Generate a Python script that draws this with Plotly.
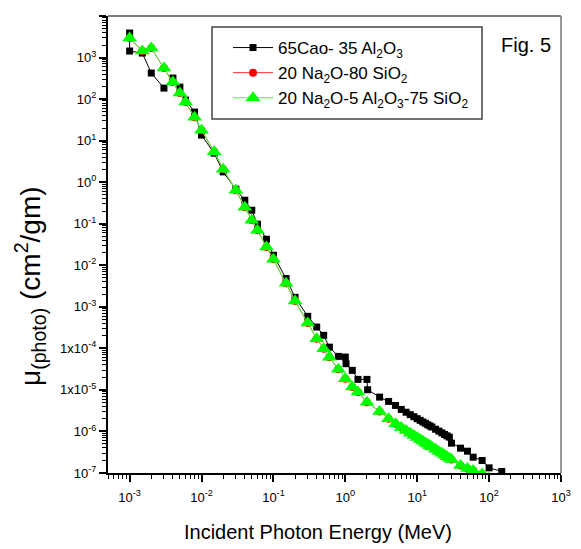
import plotly.graph_objects as go

# energies (MeV) and photoelectric mass attenuation (cm2/gm)
e_caal = [0.001, 0.001, 0.0015, 0.002, 0.003, 0.004, 0.005, 0.006, 0.008,
          0.01, 0.015, 0.02, 0.03, 0.04, 0.05, 0.06, 0.08,
          0.1, 0.15, 0.2, 0.3, 0.4, 0.5, 0.6, 0.8,
          1, 1.022, 1.25, 1.5, 2, 2.044, 3, 4, 5,
          6, 7, 8, 9, 10, 11, 12, 13, 14, 15, 16,
          18, 20, 22, 24, 26, 28, 30,
          40, 50, 60, 80, 100, 150]
mu_caal = [3890, 1435, 1283, 424, 184, 321, 194, 94.6, 48.7,
           13.6, 5.0, 1.77, 0.678, 0.368, 0.211, 0.0973, 0.0424,
           0.0174, 4.79e-3, 1.69e-3, 5.9e-4, 3.26e-4, 2.06e-4, 1.07e-4, 6.41e-5,
           6.17e-5, 4.28e-5, 2.95e-5, 1.79e-5, 1.79e-5, 1.01e-5, 6.71e-6, 5.28e-6, 4.23e-6,
           3.39e-6, 2.90e-6, 2.54e-6, 2.26e-6, 2.03e-6, 1.85e-6, 1.69e-6, 1.57e-6, 1.45e-6, 1.36e-6, 1.28e-6,
           1.13e-6, 1.02e-6, 9.25e-7, 8.47e-7, 7.83e-7, 7.29e-7, 5.22e-7,
           3.96e-7, 3.35e-7, 2.40e-7, 2.0e-7, 1.33e-7, 1.09e-7]

e_glass = [0.001, 0.0015, 0.002, 0.003, 0.004, 0.005, 0.006, 0.008,
           0.01, 0.015, 0.02, 0.03, 0.04, 0.05, 0.06, 0.08,
           0.1, 0.15, 0.2, 0.3, 0.4, 0.5, 0.6, 0.8,
           1, 1.25, 1.5, 2, 3, 4, 5,
           6, 7, 8, 9, 10, 11, 12, 13, 14, 15, 16,
           18, 20, 22, 24, 26, 28, 30,
           40, 50, 60, 80, 100]
mu_nasi = [2950, 1435, 1694, 558, 257, 140, 84.7, 36.8,
           17.9, 5.37, 2.06, 0.641, 0.250, 0.121, 0.0697, 0.0276,
           0.0140, 3.68e-3, 1.38e-3, 4.07e-4, 1.71e-4, 9.84e-5, 6.07e-5, 3.15e-5,
           1.86e-5, 1.17e-5, 8.85e-6, 5.08e-6, 3.03e-6, 2.02e-6, 1.53e-6,
           1.25e-6, 1.06e-6, 9.1e-7, 8.0e-7, 7.13e-7, 6.41e-7, 5.8e-7, 5.31e-7, 4.92e-7, 4.55e-7, 4.24e-7,
           3.73e-7, 3.30e-7, 2.97e-7, 2.70e-7, 2.47e-7, 2.27e-7, 2.12e-7,
           1.52e-7, 1.28e-7, 1.15e-7, 9.5e-8, 7.5e-8]
mu_naalsi = [2950, 1435, 1694, 558, 257, 140, 84.7, 36.8,
             17.9, 5.37, 2.06, 0.641, 0.250, 0.121, 0.0697, 0.0276,
             0.0140, 3.68e-3, 1.38e-3, 4.07e-4, 1.71e-4, 9.84e-5, 6.07e-5, 3.15e-5,
             1.86e-5, 1.17e-5, 8.85e-6, 5.08e-6, 3.03e-6, 2.02e-6, 1.53e-6,
             1.25e-6, 1.06e-6, 9.1e-7, 8.0e-7, 7.13e-7, 6.41e-7, 5.8e-7, 5.31e-7, 4.92e-7, 4.55e-7, 4.24e-7,
             3.73e-7, 3.30e-7, 2.97e-7, 2.70e-7, 2.47e-7, 2.27e-7, 2.12e-7,
             1.52e-7, 1.28e-7, 1.15e-7, 9.5e-8, 7.5e-8]

names = ['65Cao- 35 Al<sub>2</sub>O<sub>3</sub>',
         '20 Na<sub>2</sub>O-80 SiO<sub>2</sub>',
         '20 Na<sub>2</sub>O-5 Al<sub>2</sub>O<sub>3</sub>-75 SiO<sub>2</sub>']

x_ticks = [1e-3, 1e-2, 1e-1, 1, 10, 100, 1000]
x_labels = ['10<sup>-3</sup>', '10<sup>-2</sup>', '10<sup>-1</sup>', '10<sup>0</sup>',
            '10<sup>1</sup>', '10<sup>2</sup>', '10<sup>3</sup>']
y_ticks = [1e4, 1e3, 1e2, 1e1, 1, 1e-1, 1e-2, 1e-3, 1e-4, 1e-5, 1e-6, 1e-7]
y_labels = ['10<sup>4</sup>', '10<sup>3</sup>', '10<sup>2</sup>', '10<sup>1</sup>',
            '10<sup>0</sup>', '10<sup>-1</sup>', '10<sup>-2</sup>', '10<sup>-3</sup>',
            '1x10<sup>-4</sup>', '1x10<sup>-5</sup>', '10<sup>-6</sup>', '10<sup>-7</sup>']

FONT = 'Liberation Sans, Arial'

# the page body has an 8px margin, so the figure is drawn 8px smaller
# and all screen positions below are shifted by that offset
OFF = 8
W, H = 581 - OFF, 549 - OFF
# plot area in screen pixels: x 108..561, y 16..473
L, R, T, B = 108 - OFF, 561 - OFF, 16 - OFF, 473 - OFF
def px(x):
    return (x - OFF - L) / (R - L)
def py(y):
    return 1 - (y - OFF - T) / (B - T)

def minor_vals(lo, hi):
    out = []
    for p in range(lo, hi):
        for m in range(2, 10):
            out.append(m * 10.0 ** p)
    return out

fig = go.Figure()
fig.add_trace(go.Scatter(
    x=e_caal, y=mu_caal, name=names[0], mode='lines+markers',
    line=dict(color='black', width=1),
    marker=dict(symbol='square', size=7, color='black')))
fig.add_trace(go.Scatter(
    x=e_glass, y=mu_nasi, name=names[1], mode='lines+markers',
    line=dict(color='#ff3030', width=1),
    marker=dict(symbol='circle', size=8, color='red')))
fig.add_trace(go.Scatter(
    x=e_glass, y=mu_naalsi, name=names[2], mode='lines+markers',
    line=dict(color='#40ff40', width=1),
    marker=dict(symbol='triangle-up', size=13, color='#00ff00')))

axis_common = dict(
    type='log', tickmode='array',
    ticks='outside', ticklen=7, tickwidth=1.5, tickcolor='black',
    showline=True, linecolor='black', linewidth=2,
    showgrid=False, zeroline=False, automargin=False,
    tickfont=dict(family=FONT, size=13, color='black'),
)
fig.update_xaxes(
    range=[-3.301, 3], tickvals=x_ticks, ticktext=x_labels, ticklabelstandoff=4,
    minor=dict(tickmode='array', tickvals=minor_vals(-4, 3),
               ticks='outside', ticklen=4, tickcolor='black', tickwidth=1, showgrid=False),
    **axis_common)
fig.update_yaxes(
    range=[-7, 4], tickvals=y_ticks, ticktext=y_labels,
    minor=dict(tickmode='array', tickvals=minor_vals(-7, 4),
               ticks='outside', ticklen=4, tickcolor='black', tickwidth=1, showgrid=False),
    **axis_common)

fig.update_layout(
    width=W, height=H,
    margin=dict(l=L, r=W - R, t=T, b=H - B),
    paper_bgcolor='white', plot_bgcolor='white',
    font=dict(family=FONT, color='black'),
    legend=dict(x=px(228), y=py(30), xanchor='left', yanchor='top',
                bgcolor='rgba(0,0,0,0)', borderwidth=0,
                font=dict(family=FONT, size=17, color='black'),
                itemwidth=40, tracegroupgap=0),
    shapes=[
        dict(type='line', xref='paper', yref='paper', x0=0, x1=1, y0=1, y1=1,
             line=dict(color='#555555', width=1.5)),
        dict(type='line', xref='paper', yref='paper', x0=1, x1=1, y0=0, y1=1,
             line=dict(color='#777777', width=1.5)),
        dict(type='rect', xref='paper', yref='paper', layer='above',
             x0=px(212), x1=px(482), y0=py(119), y1=py(27),
             fillcolor='white', line=dict(color='#444444', width=1.5)),
    ],
    annotations=[
        dict(text='Incident Photon Energy (MeV)', xref='paper', yref='paper',
             x=px(318), y=py(532), showarrow=False,
             xanchor='center', yanchor='middle',
             font=dict(family=FONT, size=20, color='black')),
        dict(text='\u03bc<sub>(photo)</sub> (cm<sup>2</sup>/gm)', xref='paper', yref='paper',
             x=px(30), y=py(286), showarrow=False, textangle=-90,
             xanchor='center', yanchor='middle',
             font=dict(family=FONT, size=28, color='black')),
        dict(text='Fig. 5', xref='paper', yref='paper',
             x=px(526), y=py(45), showarrow=False,
             xanchor='center', yanchor='middle',
             font=dict(family=FONT, size=20, color='black')),
    ],
)

fig.write_html('out.html')
